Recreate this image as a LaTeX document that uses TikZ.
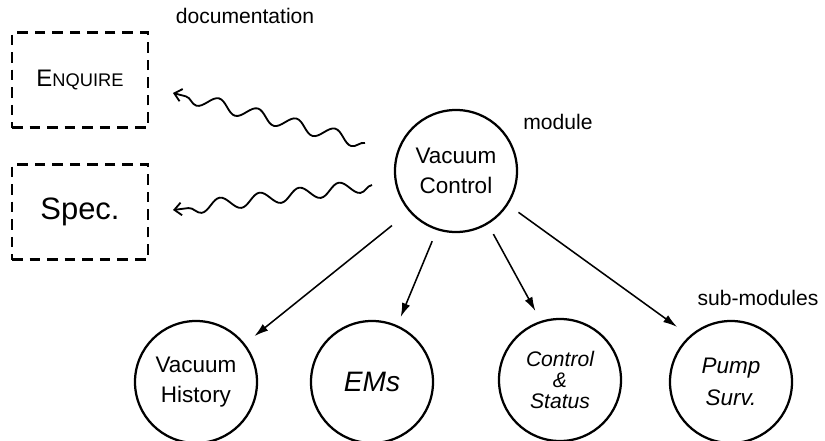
\documentclass[tikz,border=0pt]{standalone}
\usepackage{fontspec}
\setmainfont{Liberation Sans}
\usetikzlibrary{arrows.meta, decorations.pathmorphing}
\tikzset{
  every picture/.style={line width=1.6pt},
  modnode/.style={draw, circle, minimum size=3.05cm, inner sep=0pt, align=center, font=\fontsize{16}{21}\selectfont},
  docbox/.style={draw, dash pattern=on 7.5pt off 5pt, minimum width=3.4cm, minimum height=2.375cm, inner sep=0pt},
  link/.style={-{Latex[length=10pt, width=6pt]}, line width=1.1pt},
  wavy/.style={-{Straight Barb[length=5pt, width=9pt]}, line width=1.3pt, decorate,
               decoration={snake, amplitude=0.16cm, segment length=1.0cm, post length=0.3cm}},
  tag/.style={font=\fontsize{15}{18}\selectfont},
}

\begin{document}
\begin{tikzpicture}[x=0.025cm, y=-0.025cm]
  \useasboundingbox (0,0) rectangle (825,441);
  % documentation
  \node[docbox] (enq) at (80,80) {{\fontsize{17}{20}\selectfont E}{\fontsize{13}{16}\selectfont NQUIRE}};
  \node[docbox] (spec) at (80,212) {\fontsize{22}{26}\selectfont Spec.};
  \node[tag] (doclbl) at (245,16) {documentation};
  % module
  \node[modnode] (vc) at (456,171) {Vacuum\\Control};
  \node[tag] (modlbl) at (558,122) {module};
  % sub-modules
  \node[modnode] (vh) at (196,382) {Vacuum\\History};
  \node[modnode, font=\fontsize{20}{24}\selectfont\itshape] (ems) at (372,382) {EMs};
  \node[modnode, font=\fontsize{15}{15}\selectfont\itshape] (cs) at (560,380) {Control\\\&\\Status};
  \node[modnode, font=\fontsize{16}{23}\selectfont\itshape] (ps) at (731,382) {Pump\\Surv.};
  \node[tag] (sublbl) at (758,298) {sub-modules};
  % links
  \foreach \a/\b/\n/\s/\e in {221/38/vh/0.55/0.3, 252/66/ems/0.3/0.22, 301/108/cs/0.28/0.28, 327/132/ps/0.32/0.38}
    \draw[link, shorten <=\s cm, shorten >=\e cm] (vc.\a) -- (\n.\b);
  % wavy refs
  \coordinate (w1a) at (365,143); \coordinate (w1b) at (173,93);
  \coordinate (w2a) at (372,185); \coordinate (w2b) at (173,210);
  \draw[wavy] (w1a) -- (w1b);
  \draw[wavy] (w2a) -- (w2b);
\end{tikzpicture}
\end{document}
